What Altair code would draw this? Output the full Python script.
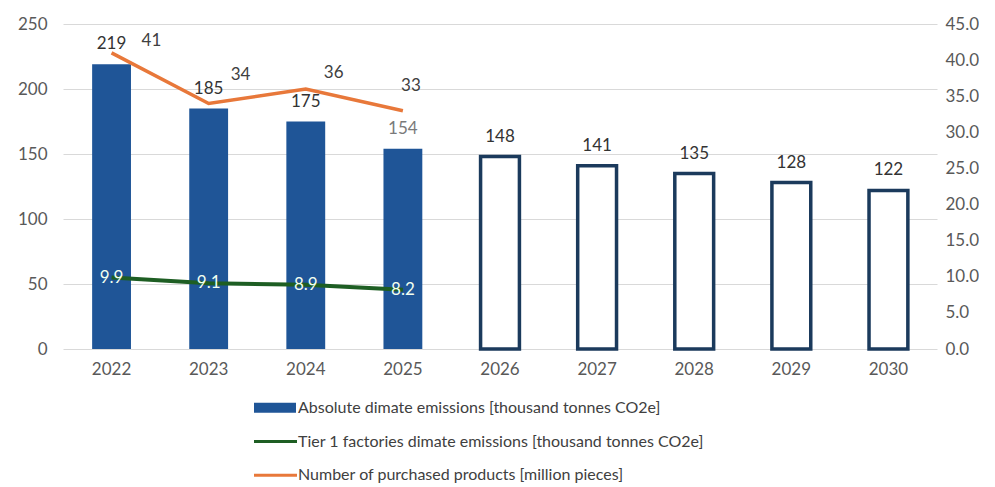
import altair as alt
import pandas as pd

years = ["2022", "2023", "2024", "2025", "2026", "2027", "2028", "2029", "2030"]
absolute = [219, 185, 175, 154, 148, 141, 135, 128, 122]
is_actual = [True, True, True, True, False, False, False, False, False]
line_years = ["2022", "2023", "2024", "2025"]
tier1 = [9.9, 9.1, 8.9, 8.2]
products = [41, 34, 36, 33]

legend_labels = [
    "Absolute dimate emissions [thousand tonnes CO2e]",
    "Tier 1 factories dimate emissions [thousand tonnes CO2e]",
    "Number of purchased products [million pieces]",
]
legend_colors = ["#1F5597", "#1E5E23", "#E8783A"]

FONT = "Lato"
AXIS_COLOR = "#595959"

bars_df = pd.DataFrame({"year": years, "value": absolute, "actual": is_actual})
lines_df = pd.DataFrame({"year": line_years, "tier1": tier1, "products": products})
legend_df = pd.DataFrame({"label": legend_labels, "kind": ["bar", "line", "line"]})

x_axis = alt.Axis(title=None, labelAngle=0, ticks=False, domain=False,
                  labelPadding=12, labelFontSize=17, labelColor=AXIS_COLOR, labelFont=FONT)
x_scale = alt.Scale(domain=years, paddingInner=0.6, paddingOuter=0.3)

def xenc():
    return alt.X("year:N", sort=years, scale=x_scale, axis=x_axis)

yleft_scale = alt.Scale(domain=[0, 250], nice=False)
yright_scale = alt.Scale(domain=[0, 45], nice=False)
left_axis = alt.Axis(title=None, values=[0, 50, 100, 150, 200, 250], grid=True,
                     gridColor="#d9d9d9", gridWidth=1, domain=False, ticks=False,
                     labelPadding=16, labelFontSize=17, labelColor=AXIS_COLOR, labelFont=FONT)
right_axis = alt.Axis(title=None, orient="right", values=[0, 5, 10, 15, 20, 25, 30, 35, 40, 45],
                      format=".1f", grid=False, domain=False, ticks=False,
                      labelPadding=8, labelFontSize=17, labelColor=AXIS_COLOR, labelFont=FONT)

def yleft(field):
    return alt.Y(field, scale=yleft_scale, axis=left_axis)

def yright(field):
    return alt.Y(field, scale=yright_scale, axis=right_axis)

bar_base = alt.Chart(bars_df).encode(x=xenc())

bar_actual = bar_base.transform_filter("datum.actual").mark_bar(color="#1F5597").encode(
    y=yleft("value:Q"))
bar_target = bar_base.transform_filter("!datum.actual").mark_bar(
    fill="white", stroke="#1B3A5C", strokeWidth=3.5
).encode(y=yleft("value:Q"))

bar_text = bar_base.transform_filter("datum.year != '2025'").mark_text(
    baseline="middle", dy=-20, fontSize=17, font=FONT, color="#333333"
).encode(y=yleft("value:Q"), text="value:Q")
bar_text_2025 = bar_base.transform_filter("datum.year == '2025'").mark_text(
    baseline="middle", dy=-20, fontSize=17, font=FONT, color="#7a7a7a"
).encode(y=yleft("value:Q"), text="value:Q")

left = alt.layer(bar_actual, bar_target, bar_text, bar_text_2025)

line_base = alt.Chart(lines_df).encode(x=xenc())

green_line = line_base.mark_line(color="#1E5E23", strokeWidth=4).encode(y=yright("tier1:Q"))
green_text = line_base.mark_text(
    baseline="middle", fontSize=17, font=FONT, color="#F2FFF0"
).encode(y=yright("tier1:Q"), text=alt.Text("tier1:Q", format=".1f"))

orange_line = line_base.mark_line(color="#E8783A", strokeWidth=3.5).encode(y=yright("products:Q"))

offsets = {"2022": (30, -12), "2023": (22, -28), "2024": (18, -16), "2025": (8, -25)}
orange_texts = []
for yr, (ddx, ddy) in offsets.items():
    orange_texts.append(
        line_base.transform_filter(f"datum.year == '{yr}'").mark_text(
            align="left" if ddx > 10 else "center", baseline="middle", dx=ddx, dy=ddy,
            fontSize=17, font=FONT, color="#404040"
        ).encode(y=yright("products:Q"), text="products:Q")
    )

right = alt.layer(green_line, orange_line, green_text, *orange_texts)

main = alt.layer(left, right).resolve_scale(y="independent").properties(width=874, height=325)

# legend panel
lx = alt.Scale(domain=[0, 874], range=[0, 874])
ly = alt.Scale(domain=legend_labels, paddingInner=0, paddingOuter=0)
lcolor = alt.Scale(domain=legend_labels, range=legend_colors)
leg_base = alt.Chart(legend_df).encode(
    y=alt.Y("label:N", sort=legend_labels, scale=ly, axis=None),
)
leg_bar = leg_base.transform_filter("datum.kind == 'bar'").mark_bar(height=10).encode(
    x=alt.datum(191, scale=lx, axis=None), x2=alt.datum(233),
    color=alt.Color("label:N", scale=lcolor, legend=None),
)
leg_line = leg_base.transform_filter("datum.kind == 'line'").mark_rule(strokeWidth=3).encode(
    x=alt.datum(191, scale=lx, axis=None), x2=alt.datum(234),
    color=alt.Color("label:N", scale=lcolor, legend=None),
)
leg_text = leg_base.mark_text(align="left", baseline="middle", fontSize=16, font=FONT,
                              color="#404040").encode(
    x=alt.datum(235, scale=lx, axis=None), text="label:N"
)
legend = alt.layer(leg_bar, leg_line, leg_text).properties(width=874, height=101)

chart = alt.vconcat(main, legend, spacing=14).configure_view(stroke=None).properties(
    padding={"left": 9, "right": 0, "top": 7, "bottom": 0}
)

chart.save("out.html", embed_options={"renderer": "svg", "actions": False})
